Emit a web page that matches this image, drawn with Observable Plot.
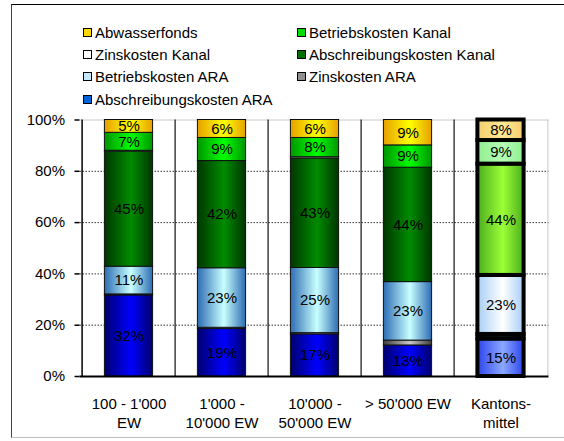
<!DOCTYPE html>
<html>
<head>
<meta charset="utf-8">
<script src="https://cdn.jsdelivr.net/npm/d3@7"></script>
<script src="https://cdn.jsdelivr.net/npm/@observablehq/plot@0.6"></script>
<style>
  html, body { margin: 0; padding: 0; background: #fff; }
  body { font-family: "Liberation Sans", Arial, sans-serif; }
  #wrap { position: relative; width: 564px; height: 441px; overflow: hidden; background: #fff; }
  #frame { position: absolute; left: 11px; top: 4px; width: 560px; height: 434px; box-sizing: border-box;
           border-top: 1px solid #000; border-left: 1px solid #444; border-bottom: 1px solid #c0c0c0; }
  #legend { position: absolute; left: 83px; top: 21px; display: grid; grid-template-columns: 214px auto;
            font-size: 15px; color: #000; }
  .item { display: flex; align-items: center; height: 22.3px; white-space: nowrap; }
  .sw { width: 7px; height: 7px; border: 1px solid #000; margin-right: 3px; flex: none; }
  #chart { position: absolute; left: 0; top: 110px; }
</style>
</head>
<body>
<div id="wrap">
  <div id="frame"></div>
  <div id="legend"></div>
  <div id="chart"></div>
</div>
<script>
// ---- data ----
const categories = ["100 - 1'000 EW", "1'000 - 10'000 EW", "10'000 - 50'000 EW", "> 50'000 EW", "Kantonsmittel"];
const tickLabels = ["100 - 1'000\nEW", "1'000 -\n10'000 EW", "10'000 -\n50'000 EW", "> 50'000 EW", "Kantons-\nmittel"];
// series, bottom of the stack to top
const seriesNames = ["Abschreibungskosten ARA", "Zinskosten ARA", "Betriebskosten ARA",
                     "Abschreibungskosten Kanal", "Zinskosten Kanal", "Betriebskosten Kanal", "Abwasserfonds"];
const abschreibungARA   = [31.6, 18.5, 16.4, 12.1, 14.6];
const zinsARA           = [0.4, 0.5, 0.5, 1.9, 1.8];
const betriebARA        = [10.8, 23.2, 25.4, 22.8, 23.0];
const abschreibungKanal = [44.9, 41.8, 42.7, 44.6, 43.4];
const zinsKanal         = [0.3, 0, 0.5, 0, 0];
const betriebKanal      = [7.0, 9.0, 7.5, 8.7, 9.2];
const abwasserfonds     = [5.0, 7.0, 7.0, 9.9, 8.0];
// data labels as printed
const lblAbschreibungARA   = ["32%", "19%", "17%", "13%", "15%"];
const lblBetriebARA        = ["11%", "23%", "25%", "23%", "23%"];
const lblAbschreibungKanal = ["45%", "42%", "43%", "44%", "44%"];
const lblBetriebKanal      = ["7%", "9%", "8%", "9%", "9%"];
const lblAbwasserfonds     = ["5%", "6%", "6%", "9%", "8%"];
const yTicks = [0, 0.2, 0.4, 0.6, 0.8, 1];

const seriesValues = [abschreibungARA, zinsARA, betriebARA, abschreibungKanal, zinsKanal, betriebKanal, abwasserfonds];
const seriesLabels = [lblAbschreibungARA, null, lblBetriebARA, lblAbschreibungKanal, null, lblBetriebKanal, lblAbwasserfonds];
const highlight = "Kantonsmittel";

const rows = [];
categories.forEach((c, i) => seriesNames.forEach((s, j) => rows.push({
  cat: c, series: s, si: j, value: seriesValues[j][i] / 100,
  label: seriesLabels[j] ? seriesLabels[j][i] : null
})));

// ---- styles (same order as seriesNames) ----
const gradNormal = [["#00006e", "#0000ff"], ["#3c3c3c", "#c8c8c8"], ["#2d6cb3", "#c8ffff"],
                    ["#003600", "#008c00"], ["#ffffff", "#ffffff"], ["#009600", "#00ff00"], ["#e6a000", "#ffff00"]];
const gradKanton = [["#2c44ee", "#8ca8ff"], ["#000000", "#202020"], ["#a6cef6", "#ffffff"],
                    ["#4cae1e", "#9cff36"], ["#ffffff", "#ffffff"], ["#92ee92", "#b4ffb4"], ["#f4cc6c", "#ffea94"]];
const legendColors = ["#0064d8", "#909090", "#c4e8ff", "#007000", "#ffffff", "#00dc00", "#ffd800"];

// legend: top of stack first, two columns row-major
const legend = document.getElementById("legend");
seriesNames.map((s, j) => j).reverse().forEach((j) => {
  const it = document.createElement("div");
  it.className = "item";
  it.innerHTML = `<span class="sw" style="background:${legendColors[j]}"></span><span>${seriesNames[j]}</span>`;
  legend.appendChild(it);
});

// ---- chart ----
const W = 564, H = 331, ml = 79.5, mr = 15.5, mt = 9.5, mb = 65;
const step = (W - ml - mr) / categories.length;
const inset = (step - 49) / 2;
const fillFor = (d) => `url(#g${d.cat === highlight ? "k" : "n"}${d.si})`;

const plot = Plot.plot({
  width: W, height: H,
  marginLeft: ml, marginRight: mr, marginTop: mt, marginBottom: mb,
  style: { fontFamily: "'Liberation Sans', Arial, sans-serif", fontSize: "15px", color: "#000", background: "transparent", overflow: "visible" },
  x: { domain: categories, padding: 0, label: null },
  y: { domain: [0, 1], label: null },
  color: { type: "identity" },
  marks: [
    Plot.ruleY(yTicks.slice(1, -1), { stroke: "#333", strokeDasharray: "1.5,1.5" }),
    Plot.ruleY([1], { stroke: "#c8c8c8" }),
    Plot.ruleX([categories[categories.length - 1]], { dx: step / 2, stroke: "#c8c8c8" }),
    Plot.ruleX(categories.slice(1), { dx: -step / 2, stroke: "#111", strokeWidth: 1.2 }),
    Plot.barY(rows.filter((d) => d.cat !== highlight), Plot.stackY({
      x: "cat", y: "value", z: "series", fill: fillFor, stroke: "#111", strokeWidth: 1,
      insetLeft: inset, insetRight: inset
    })),
    Plot.barY(rows.filter((d) => d.cat === highlight), Plot.stackY({
      x: "cat", y: "value", z: "series", fill: fillFor, stroke: "#000", strokeWidth: 4,
      insetLeft: inset + 1, insetRight: inset + 1
    })),
    Plot.text(rows, Plot.stackY({
      x: "cat", y: "value", z: "series", text: "label", fill: "#000", fontSize: 15
    })),
    Plot.ruleX([categories[0]], { dx: -step / 2, stroke: "#000", strokeWidth: 1.5 }),
    Plot.ruleY([0], { stroke: "#000", strokeWidth: 2 }),
    Plot.axisY(yTicks, { tickFormat: (d) => Math.round(d * 100) + "%", tickSize: 5, tickPadding: 10, fontSize: 15, stroke: "#000", strokeWidth: 1.5 }),
    Plot.axisX({ tickSize: 0, tickPadding: 19, fontSize: 15, lineHeight: 1.25,
                 tickFormat: (d) => tickLabels[categories.indexOf(d)] })
  ]
});

// gradient defs
const defs = [];
const mk = (id, [edge, center]) => `<linearGradient id="${id}" x1="0" x2="1" y1="0" y2="0">
  <stop offset="0" stop-color="${edge}"/><stop offset="0.55" stop-color="${center}"/><stop offset="1" stop-color="${edge}"/></linearGradient>`;
gradNormal.forEach((g, j) => defs.push(mk("gn" + j, g)));
gradKanton.forEach((g, j) => defs.push(mk("gk" + j, g)));
plot.insertAdjacentHTML("afterbegin", `<defs>${defs.join("")}</defs>`);

document.getElementById("chart").appendChild(plot);
</script>
</body>
</html>
